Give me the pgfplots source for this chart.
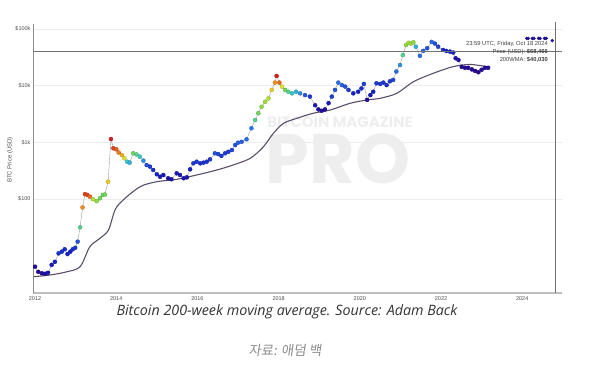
\documentclass[border=0pt]{standalone}
\usepackage{fontspec}
\setmainfont{Liberation Sans}
\newfontfamily\capfont{Open Sans}
\newfontfamily\krfont[FakeSlant=0.15]{Noto Sans CJK KR}
\newfontfamily\wmfont{Poppins}
\usepackage{pgfplots}
\usepackage{pgfplotstable}
\pgfplotsset{compat=1.18}
\definecolor{wma}{RGB}{90,78,105}
\definecolor{wm}{RGB}{238,238,238}

\pgfplotstableread{
x y c
2012.00 6.4 0.05
2012.08 5.2 0.05
2012.17 4.9 0.05
2012.25 4.8 0.08
2012.32 5.0 0.10
2012.41 6.9 0.12
2012.49 7.8 0.15
2012.58 11.0 0.18
2012.66 11.8 0.18
2012.73 13.0 0.18
2012.80 10.7 0.15
2012.87 11.8 0.15
2012.93 13.0 0.18
2012.99 13.8 0.20
2013.05 17.7 0.25
2013.11 31.7 0.50
2013.17 71 0.85
2013.23 122 0.95
2013.29 118 0.95
2013.35 110 0.90
2013.43 99 0.65
2013.52 92 0.60
2013.60 103 0.55
2013.67 118 0.55
2013.72 120 0.55
2013.80 202 0.75
2013.87 1143 1.00
2013.93 784 0.95
2014.00 753 0.92
2014.06 660 0.88
2014.14 597 0.80
2014.20 522 0.70
2014.27 455 0.45
2014.33 438 0.40
2014.42 640 0.55
2014.50 610 0.50
2014.58 558 0.45
2014.67 475 0.35
2014.75 397 0.25
2014.83 372 0.20
2014.91 325 0.18
2015.00 273 0.15
2015.08 247 0.12
2015.16 265 0.12
2015.28 232 0.10
2015.36 223 0.10
2015.49 284 0.12
2015.57 265 0.12
2015.66 232 0.10
2015.74 241 0.10
2015.82 334 0.15
2015.90 426 0.20
2015.98 455 0.20
2016.07 426 0.18
2016.15 438 0.18
2016.23 455 0.18
2016.31 501 0.20
2016.43 640 0.25
2016.51 620 0.22
2016.59 575 0.20
2016.68 640 0.20
2016.76 680 0.20
2016.85 730 0.22
2016.93 895 0.25
2017.00 985 0.28
2017.09 1020 0.28
2017.21 1130 0.30
2017.33 1770 0.32
2017.42 2470 0.50
2017.50 3260 0.55
2017.58 4240 0.60
2017.67 5200 0.62
2017.75 5950 0.65
2017.83 8400 0.75
2017.91 11300 0.85
2017.95 14800 1.00
2018.02 11300 0.90
2018.08 9600 0.70
2018.16 8400 0.55
2018.24 7800 0.50
2018.33 7300 0.45
2018.43 7800 0.40
2018.53 7300 0.35
2018.65 6800 0.25
2018.77 6400 0.20
2018.90 4500 0.12
2018.98 3800 0.08
2019.06 3600 0.06
2019.14 3800 0.06
2019.23 4900 0.12
2019.31 6400 0.20
2019.39 8400 0.25
2019.47 11300 0.30
2019.56 10200 0.28
2019.64 9600 0.25
2019.72 8400 0.20
2019.84 7300 0.15
2019.96 7800 0.15
2020.04 8900 0.18
2020.10 10700 0.22
2020.18 5600 0.08
2020.26 6800 0.12
2020.33 7800 0.15
2020.41 11000 0.20
2020.50 10700 0.20
2020.58 11300 0.20
2020.66 10200 0.18
2020.74 11900 0.20
2020.82 12600 0.22
2020.90 17700 0.30
2020.99 23000 0.35
2021.06 34600 0.50
2021.14 52000 0.60
2021.20 56800 0.62
2021.26 55000 0.62
2021.32 58000 0.60
2021.38 48500 0.40
2021.48 33400 0.30
2021.56 41000 0.28
2021.66 45700 0.25
2021.77 59000 0.30
2021.85 55000 0.25
2021.93 48500 0.22
2022.05 42500 0.18
2022.13 40800 0.15
2022.22 39800 0.15
2022.30 38300 0.15
2022.36 30400 0.10
2022.43 28300 0.08
2022.51 21400 0.06
2022.59 20600 0.05
2022.67 20600 0.05
2022.76 19300 0.05
2022.84 18100 0.04
2022.92 17200 0.04
2023.00 19000 0.05
2023.08 20600 0.06
2023.16 20600 0.06
}\price

\pgfplotstableread{
x y c
2024.11 68000 0.08
2024.15 68000 0.08
2024.25 68000 0.08
2024.29 68000 0.08
2024.40 68000 0.08
2024.44 68000 0.08
2024.55 68000 0.08
2024.59 68000 0.08
2024.74 62000 0.10
}\recent

\pgfplotstableread{
x y
2011.96 4.26
2012.37 4.57
2012.78 5.2
2013.11 6.4
2013.35 14.4
2013.60 20.3
2013.81 28.4
2013.97 64
2014.17 96
2014.59 165
2015.00 202
2015.49 222
2015.98 265
2016.48 325
2016.88 398
2017.30 522
2017.62 826
2017.87 1440
2018.12 2160
2018.45 2650
2018.85 3250
2019.27 3710
2019.76 4870
2020.17 5570
2020.50 5970
2020.91 7310
2021.32 11700
2021.81 16500
2022.30 21600
2022.71 23600
2023.13 21600
}\wmaline

\pgfplotsset{colormap={btc}{rgb255=(50,0,125) rgb255=(20,30,200) rgb255=(40,100,235) rgb255=(50,200,220) rgb255=(120,220,70) rgb255=(235,225,40) rgb255=(245,140,30) rgb255=(215,30,30)}}

\begin{document}
\begin{tikzpicture}
\path[use as bounding box] (-33pt,-87pt) rectangle (567pt,293pt);
% watermark
\node[text=wm, font=\wmfont\bfseries\fontsize{15}{15}\selectfont] at (307pt,171pt) {BITCOIN MAGAZINE};
\node[text=wm, font=\wmfont\bfseries\fontsize{70}{70}\selectfont] at (305pt,134pt) {PRO};
\begin{axis}[
  scale only axis,
  width=529pt, height=269pt,
  xmin=2011.95, xmax=2024.98,
  ymode=log, ymin=2.2, ymax=122000,
  axis x line*=bottom, axis y line*=left,
  x axis line style={draw=black!25, line width=1.6pt},
  y axis line style={draw=black!45, line width=0.6pt},
  tick style={draw=none},
  xtick={2012,2014,2016,2018,2020,2022,2024},
  xticklabels={2012,2014,2016,2018,2020,2022,2024},
  ytick={100,1000,10000,100000},
  yticklabels={\$100,\$1k,\$10k,\$100k},
  ymajorgrids, grid style={draw=black!7, line width=0.5pt},
  tick label style={font=\fontsize{5.5}{6}\selectfont, text=black!70},
  xticklabel style={yshift=0pt},
  yticklabel style={xshift=1pt},
  colormap name=btc,
  point meta min=0, point meta max=1,
  clip=false,
]
\addplot[black!40, line width=0.4pt] table[x=x,y=y]{\price};
\addplot[wma, line width=1.1pt, smooth] table[x=x,y=y]{\wmaline};
\addplot[scatter, only marks, mark=*, mark size=2pt, scatter src=explicit] table[x=x,y=y,meta=c]{\price};
\addplot[scatter, only marks, mark=*, mark size=1.5pt, scatter src=explicit] table[x=x,y=y,meta=c]{\recent};
\end{axis}
% crosshair
\draw[black!55, line width=0.6pt] (0pt,242pt) -- (529pt,242pt);
\draw[black!55, line width=0.6pt] (522pt,0pt) -- (522pt,271pt);
% tooltip
\node[anchor=east, font=\fontsize{5.8}{6}\selectfont, text=black!75, inner sep=0pt] at (515pt,249pt) {23:59 UTC, Friday, Oct 18 2024};
\node[anchor=east, font=\fontsize{5.8}{6}\selectfont, text=black!75, inner sep=0pt] at (515pt,241pt) {Price (USD): \textbf{\$68,466}};
\node[anchor=east, font=\fontsize{5.8}{6}\selectfont, text=black!75, inner sep=0pt] at (515pt,233pt) {200WMA: \textbf{\$40,030}};
% y label
\node[rotate=90, font=\fontsize{6}{7}\selectfont, text=black!70] at (-23pt,133pt) {BTC Price (USD)};
% captions
\node[font=\capfont\itshape\fontsize{14.3}{16}\selectfont, text=black!80] at (254pt,-19pt) {Bitcoin 200-week moving average. Source: Adam Back};
\node[font=\krfont\fontsize{13.5}{15}\selectfont, text=black!45] at (252pt,-57pt) {자료: 애덤 백};
\end{tikzpicture}
\end{document}
